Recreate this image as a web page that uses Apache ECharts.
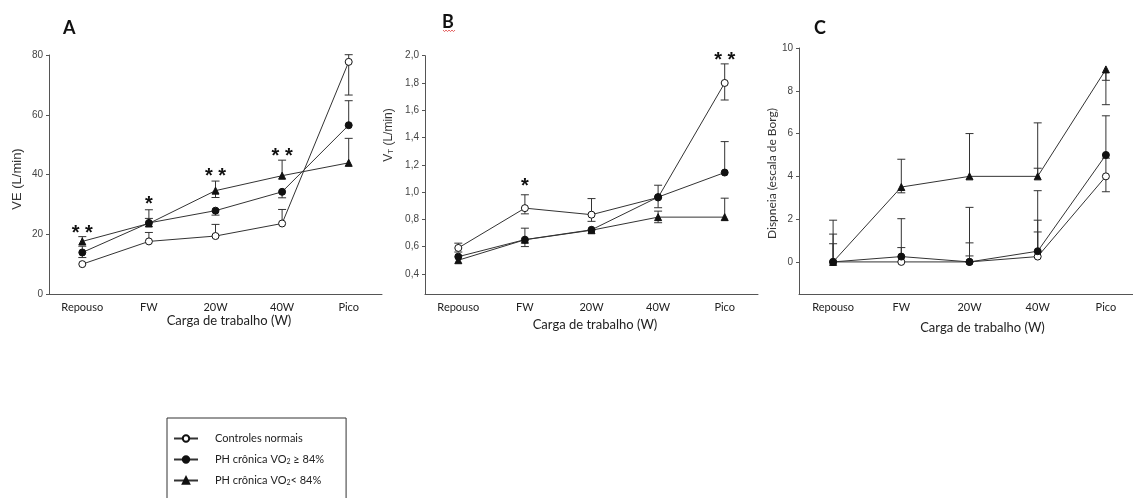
<!doctype html>
<html>
<head>
<meta charset="utf-8">
<title>Carga de trabalho</title>
<script src="https://cdn.jsdelivr.net/npm/echarts@6/dist/echarts.min.js"></script>
<style type="text/css">
	html, body {margin:0; padding:0; background:#fff;}
	#chart {width:1133px; height:498px;}
</style>
</head>
<body>
<div id="chart"></div>
<script type="text/javascript">
// categorias do eixo x
var cargas = ['Repouso', 'FW', '20W', '40W', 'Pico'];
var grupos = ['Controles normais', 'PH crônica VO2 ≥ 84%', 'PH crônica VO2< 84%'];

// A - VE (L/min)
var veControle = [10, 17.6, 19.4, 23.6, 77.7];
var veAlto = [13.9, 23.8, 27.9, 34.2, 56.5];
var veBaixo = [17.6, 23.6, 34.6, 39.6, 43.9];
// barras de erro: [categoria, ponto, extremo]
var veErro = [[0,17.6,19.2],[0,13.9,16.0],[0,13.9,12.2],[1,23.7,28.2],[1,23.7,25.3],[1,17.6,20.6],
	[2,34.6,37.8],[2,34.6,32.3],[2,27.9,26.4],[2,19.4,23.3],[3,39.6,44.8],[3,34.2,32.2],[3,23.6,28.3],
	[4,77.7,80.1],[4,77.7,66.6],[4,56.5,64.7],[4,43.9,52.1]];
var veSig = ['* *', '*', '* *', '* *', ''];
var veSigY = [22, 31.8, 40.9, 47.8, null];

// B - VT (L/min)
var vtControle = [0.59, 0.882, 0.834, 0.96, 1.80];
var vtAlto = [0.526, 0.651, 0.723, 0.963, 1.143];
var vtBaixo = [0.50, 0.65, 0.72, 0.816, 0.816];
var vtErro = [[0,0.59,0.625],[0,0.59,0.56],[1,0.882,0.98],[1,0.882,0.84],[1,0.651,0.735],[1,0.651,0.60],
	[2,0.834,0.952],[2,0.834,0.785],[3,0.963,1.05],[3,0.963,0.885],[3,0.816,0.86],[3,0.816,0.775],
	[4,1.80,1.94],[4,1.80,1.675],[4,1.143,1.37],[4,0.816,0.955]];
var vtSig = ['', '*', '', '', '* *'];
var vtSigY = [null, 1.074, null, null, 2.005];
var vtTicks = [0.4, 0.6, 0.8, 1.0, 1.2, 1.4, 1.6, 1.8, 2.0];

// C - Dispneia (escala de Borg)
var dControle = [0, 0, 0, 0.25, 4];
var dAlto = [0, 0.25, 0, 0.5, 5];
var dBaixo = [0, 3.5, 4, 4, 9];
var dErro = [[0,0,0.85],[0,0,1.3],[0,0,1.95],[1,3.5,4.8],[1,3.5,3.23],[1,0,0.67],[1,0.25,2.02],
	[2,4,6.0],[2,0,0.28],[2,0,0.89],[2,0,2.55],[3,4,6.5],[3,4,4.38],[3,0.25,1.4],[3,0.5,1.95],[3,0.5,3.33],
	[4,9,8.49],[4,9,7.35],[4,5,6.83],[4,4,4.85],[4,4,3.28]];
var dTicks = [0, 2, 4, 6, 8, 10];

var cinza = '#333';
var fonteNum = 'Liberation Sans, Arial, sans-serif';
var fonteTxt = 'Lato, sans-serif';

function xEixo(idx, pad, gap){
	return {
		type: 'category', gridIndex: idx, data: cargas, boundaryGap: true,
		name: 'Carga de trabalho (W)', nameLocation: 'middle', nameGap: gap,
		nameTextStyle: {fontFamily: fonteTxt, fontSize: 13, color: '#222', padding: pad},
		axisLine: {onZero: false, lineStyle: {color: '#555', width: 1}},
		axisTick: {alignWithLabel: true, length: 3, lineStyle: {color: '#555'}},
		axisLabel: {fontFamily: fonteTxt, fontSize: 11, color: '#222', margin: 8},
		splitLine: {show: false}
	};
}

function yEixo(idx, extra){
	var e = {
		type: 'value', gridIndex: idx, nameLocation: 'middle',
		axisLine: {show: true, onZero: false, lineStyle: {color: '#555', width: 1}},
		axisTick: {show: true, length: 3, lineStyle: {color: '#555'}},
		axisLabel: {fontFamily: fonteNum, fontSize: 10, color: '#444', margin: 6},
		splitLine: {show: false}
	};
	for (var k in extra) e[k] = extra[k];
	return e;
}

function erroRender(params, api){
	var a = api.coord([api.value(0), api.value(1)]);
	var b = api.coord([api.value(0), api.value(2)]);
	var w = 4;
	return {type: 'group', children: [
		{type: 'line', shape: {x1: a[0], y1: a[1], x2: b[0], y2: b[1]}, style: {stroke: cinza, lineWidth: 1}},
		{type: 'line', shape: {x1: b[0]-w, y1: b[1], x2: b[0]+w, y2: b[1]}, style: {stroke: cinza, lineWidth: 1}}
	]};
}

function sigSerie(idx, textos, ys){
	var dados = [];
	for (var i = 0; i < ys.length; i++) if (ys[i] != null) dados.push([i, ys[i], i]);
	return {
		type: 'custom', xAxisIndex: idx, yAxisIndex: idx, data: dados, clip: false, silent: true, z: 5,
		renderItem: function(params, api){
			var p = api.coord([api.value(0), api.value(1)]);
			return {type: 'text', x: p[0], y: p[1] + 5, style: {
				text: textos[api.value(2)], fill: '#111', align: 'center', verticalAlign: 'middle',
				font: 'bold 20px ' + fonteNum
			}};
		}
	};
}

function linhas(idx, ctrl, alto, baixo, erros){
	return [
		{type: 'custom', xAxisIndex: idx, yAxisIndex: idx, data: erros, renderItem: erroRender,
			encode: {x: 0, y: [1, 2]}, silent: true, z: 1, clip: false},
		{name: grupos[0], type: 'line', xAxisIndex: idx, yAxisIndex: idx, data: ctrl, z: 3,
			symbol: 'circle', symbolSize: 7, lineStyle: {color: cinza, width: 1},
			itemStyle: {color: '#fff', borderColor: '#111', borderWidth: 1}},
		{name: grupos[1], type: 'line', xAxisIndex: idx, yAxisIndex: idx, data: alto, z: 3,
			symbol: 'circle', symbolSize: 7, lineStyle: {color: cinza, width: 1},
			itemStyle: {color: '#111', borderColor: '#111', borderWidth: 1}},
		{name: grupos[2], type: 'line', xAxisIndex: idx, yAxisIndex: idx, data: baixo, z: 3,
			symbol: 'triangle', symbolSize: 7, lineStyle: {color: cinza, width: 1},
			itemStyle: {color: '#111', borderColor: '#111', borderWidth: 1}}
	];
}

var chart = echarts.init(document.getElementById('chart'), null, {renderer: 'canvas'});
var virgula = function(v){ return v.toFixed(1).replace('.', ','); };

var option = {
	animation: false,
	backgroundColor: '#fff',
	grid: [
		{left: 49, top: 55, width: 333, height: 239, outerBoundsMode: 'none'},
		{left: 425, top: 55.7, width: 333, height: 238.6, outerBoundsMode: 'none'},
		{left: 799, top: 48, width: 341, height: 246, outerBoundsMode: 'none'}
	],
	title: [
		{text: 'A', left: 63, top: 19, padding: 0, textStyle: {fontFamily: fonteTxt, fontSize: 18, fontWeight: 'bold', color: '#111'}},
		{text: 'B', left: 442, top: 13, padding: 0, textStyle: {fontFamily: fonteTxt, fontSize: 18, fontWeight: 'bold', color: '#111'}},
		{text: 'C', left: 814, top: 19, padding: 0, textStyle: {fontFamily: fonteTxt, fontSize: 18, fontWeight: 'bold', color: '#111'}}
	],
	graphic: [
		{type: 'polyline', shape: {points: [[443,30],[444.5,31.6],[446,30],[447.5,31.6],[449,30],[450.5,31.6],[452,30],[453.5,31.6],[455,30]]},
			style: {stroke: '#e04040', lineWidth: 0.8, fill: null}, silent: true}
	],
	legend: {
		data: grupos, orient: 'vertical', left: 167, top: 418, height: 140,
		padding: [15, 22, 30, 6], itemWidth: 24, itemHeight: 8, itemGap: 10,
		borderColor: '#333', borderWidth: 1,
		formatter: function(n){ return n.replace('VO2', 'VO{sub|2}'); },
		textStyle: {fontFamily: fonteTxt, fontSize: 11, color: '#222', padding: [0, 0, 0, 12],
			rich: {sub: {fontFamily: fonteTxt, fontSize: 7, color: '#222', verticalAlign: 'bottom', padding: [4, 0, 0, 0]}}}
	},
	xAxis: [
		xEixo(0, [0, 0, 0, 27], 20),
		xEixo(1, [0, 0, 0, 7], 24),
		xEixo(2, [0, 0, 0, 26], 27)
	],
	yAxis: [
		yEixo(0, {min: 0, max: 80, interval: 20, name: 'VE (L/min)', nameGap: 25,
			nameTextStyle: {fontFamily: fonteNum, fontSize: 13, color: '#333', padding: [0, 9, 0, 0]}}),
		yEixo(1, {min: 0.25, max: 2.0, name: 'V{sub|T} (L/min)', nameGap: 30,
			axisLabel: {fontFamily: fonteNum, fontSize: 10, color: '#444', margin: 6, customValues: vtTicks, formatter: virgula},
			axisTick: {show: true, length: 3, lineStyle: {color: '#555'}, customValues: vtTicks},
			nameTextStyle: {fontFamily: fonteNum, fontSize: 12, color: '#333', padding: [0, 0, 0, 80],
				rich: {sub: {fontFamily: fonteNum, fontSize: 8, color: '#333', verticalAlign: 'bottom', padding: [4, 0, 0, 0]}}}}),
		yEixo(2, {min: -1.5, max: 10, name: 'Dispneia (escala de Borg)', nameGap: 21,
			axisLabel: {fontFamily: fonteNum, fontSize: 10, color: '#444', margin: 6, customValues: dTicks},
			axisTick: {show: true, length: 3, lineStyle: {color: '#555'}, customValues: dTicks},
			nameTextStyle: {fontFamily: fonteTxt, fontSize: 12, color: '#333', padding: [0, 5, 0, 0]}})
	],
	series: [].concat(
		linhas(0, veControle, veAlto, veBaixo, veErro),
		linhas(1, vtControle, vtAlto, vtBaixo, vtErro),
		linhas(2, dControle, dAlto, dBaixo, dErro),
		[sigSerie(0, veSig, veSigY), sigSerie(1, vtSig, vtSigY)]
	)
};
chart.setOption(option);
</script>
</body>
</html>
